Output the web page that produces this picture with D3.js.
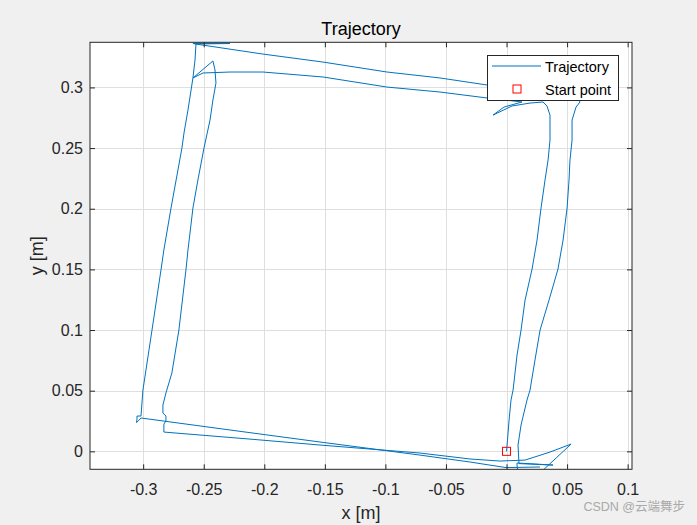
<!DOCTYPE html>
<html>
<head>
<meta charset="utf-8">
<script src="https://cdn.jsdelivr.net/npm/d3@7"></script>
<style>
html,body{margin:0;padding:0;background:#f0f0f0;}
svg{display:block;font-family:"Liberation Sans",Arial,Helvetica,sans-serif;}
</style>
</head>
<body>
<svg id="chart" width="697" height="525"></svg>
<script>
// ---- data (metres) ----
const trajX = [0,0.0008,0.0021,0.0037,0.0054,0.0087,0.0120,0.0153,0.0211,0.0252,0.0285,0.0318,0.0343,0.0359,0.0359,0.0334,0.0301,0.0194,0.0045,-0.0111,-0.0021,0.0128,
  -0.0161,-0.0549,-0.0987,-0.1515,-0.2011,-0.2283,-0.2506,-0.2589,-0.2424,-0.2407,-0.2399,-0.2424,-0.2448,-0.2498,-0.2548,-0.2589,-0.2630,-0.2647,-0.2705,-0.2763,-0.2812,-0.2837,-0.2837,-0.2812,-0.2812,-0.2829,-0.2829,
  -0.2118,-0.1540,-0.0714,-0.0301,-0.0054,0.0153,0.0359,0.0533,0.0285,0.0095,0.0087,0.0087,0.0384,0.0103,
  0.0095,0.0120,0.0169,0.0194,0.0235,0.0277,0.0351,0.0425,0.0467,0.0500,0.0516,0.0524,0.0541,0.0541,0.0574,0.0607,0.0566,0.0111,
  -0.0161,-0.0549,-0.0987,-0.1515,-0.2011,-0.2515,-0.2589,-0.2283,-0.2564,-0.2572,-0.2589,-0.2630,-0.2663,-0.2680,-0.2770,-0.2829,-0.2853,-0.2927,-0.3002,-0.3018,-0.3051,-0.3051,-0.3055,-0.3034,-0.3018,
  -0.2283,-0.1540,-0.0714,-0.0301,-0.0004,0.0277];
const trajY = [0,0.0093,0.0258,0.0423,0.0505,0.0794,0.1000,0.1247,0.1503,0.1742,0.2006,0.2237,0.2402,0.2566,0.2772,0.2847,0.2880,0.2871,0.2847,0.2772,0.2838,0.2880,
  0.2913,0.2962,0.3003,0.3086,0.3127,0.3127,0.3119,0.3078,0.3218,0.3144,0.3036,0.2896,0.2731,0.2500,0.2237,0.2006,0.1660,0.1495,0.1000,0.0646,0.0481,0.0382,0.0316,0.0291,0.0250,0.0225,0.0159,
  0.0101,0.0052,-0.0014,-0.0063,-0.0080,-0.0072,-0.0006,0.0060,-0.0171,-0.0171,-0.0121,-0.0096,-0.0113,-0.0101,
  0.0052,0.0217,0.0423,0.0505,0.0753,0.1000,0.1247,0.1503,0.1742,0.2006,0.2237,0.2402,0.2566,0.2731,0.2838,0.2880,0.2929,0.2979,
  0.3020,0.3078,0.3127,0.3209,0.3275,0.3350,0.3362,0.3362,0.3358,0.3226,0.3078,0.2814,0.2624,0.2500,0.2006,0.1660,0.1495,0.1000,0.0505,0.0291,0.0291,0.0266,0.0237,0.0258,0.0275,
  0.0176,0.0077,-0.0031,-0.0088,-0.0134,-0.0129];
const startPoint = [0, 0];
const xTicks = [-0.3,-0.25,-0.2,-0.15,-0.1,-0.05,0,0.05,0.1];
const xTickLabels = ["-0.3","-0.25","-0.2","-0.15","-0.1","-0.05","0","0.05","0.1"];
const yTicks = [0,0.05,0.1,0.15,0.2,0.25,0.3];
const yTickLabels = ["0","0.05","0.1","0.15","0.2","0.25","0.3"];
const legendLabels = ["Trajectory","Start point"];

// ---- layout ----
const svg = d3.select("#chart");
const L = 90, R = 632, T = 42.3, B = 469.3;
const x = d3.scaleLinear().domain([-0.3439, 0.1036]).range([L, R]);
const y = d3.scaleLinear().domain([-0.0148, 0.3372]).range([B, T]);
const textCol = "#262626";
const blue = "#0072BD";

svg.append("rect").attr("x",0).attr("y",0).attr("width",697).attr("height",525).attr("fill","#f0f0f0");
svg.append("rect").attr("x",L).attr("y",T).attr("width",R-L).attr("height",B-T).attr("fill","#ffffff");

// grid
const grid = svg.append("g").attr("stroke","#dfdfdf").attr("stroke-width",1).attr("shape-rendering","crispEdges");
xTicks.forEach(t=>grid.append("line").attr("x1",Math.round(x(t))+0.5).attr("x2",Math.round(x(t))+0.5).attr("y1",T).attr("y2",B));
yTicks.forEach(t=>grid.append("line").attr("y1",Math.round(y(t))+0.5).attr("y2",Math.round(y(t))+0.5).attr("x1",L).attr("x2",R));

// clip
svg.append("clipPath").attr("id","clip").append("rect").attr("x",L).attr("y",T).attr("width",R-L).attr("height",B-T);

const pts = trajX.map((v,i)=>[v, trajY[i]]);
const line = d3.line().x(d=>x(d[0])).y(d=>y(d[1]));
svg.append("path").attr("clip-path","url(#clip)").attr("d",line(pts))
  .attr("fill","none").attr("stroke",blue).attr("stroke-width",1).attr("stroke-linejoin","round");

// start marker
svg.append("rect").attr("x",x(startPoint[0])-4).attr("y",y(startPoint[1])-4).attr("width",8).attr("height",8)
  .attr("fill","none").attr("stroke","#ff0000").attr("stroke-width",1);

// axes (ticks inside, box on)
const axB = svg.append("g").attr("transform",`translate(0,${B})`).call(d3.axisBottom(x).tickValues(xTicks).tickSizeInner(-5).tickSizeOuter(0).tickPadding(14).tickFormat((d,i)=>xTickLabels[i]));
const axT = svg.append("g").attr("transform",`translate(0,${T})`).call(d3.axisTop(x).tickValues(xTicks).tickSizeInner(-5).tickSizeOuter(0).tickFormat(""));
const axL = svg.append("g").attr("transform",`translate(${L},0)`).call(d3.axisLeft(y).tickValues(yTicks).tickSizeInner(-5).tickSizeOuter(0).tickPadding(7).tickFormat((d,i)=>yTickLabels[i]));
const axR = svg.append("g").attr("transform",`translate(${R},0)`).call(d3.axisRight(y).tickValues(yTicks).tickSizeInner(-5).tickSizeOuter(0).tickFormat(""));
[axB,axT,axL,axR].forEach(g=>{
  g.select(".domain").remove();
  g.selectAll("line").attr("stroke",textCol);
  g.selectAll("text").attr("fill",textCol).attr("font-size",16).attr("font-family","Liberation Sans, Arial, sans-serif");
});
svg.append("rect").attr("x",L).attr("y",T).attr("width",R-L).attr("height",B-T)
  .attr("fill","none").attr("stroke",textCol).attr("stroke-width",1);

// title & labels
svg.append("text").attr("x",(L+R)/2).attr("y",34.5).attr("text-anchor","middle").attr("font-size",18).attr("fill","#000").text("Trajectory");
svg.append("text").attr("x",(L+R)/2).attr("y",518.5).attr("text-anchor","middle").attr("font-size",18).attr("fill",textCol).text("x [m]");
svg.append("text").attr("transform",`translate(43,${(T+B)/2}) rotate(-90)`).attr("text-anchor","middle").attr("font-size",18).attr("fill",textCol).text("y [m]");

// legend
const lg = svg.append("g");
lg.append("rect").attr("x",487.5).attr("y",55.5).attr("width",131).attr("height",45).attr("fill","#fff").attr("stroke",textCol).attr("stroke-width",1);
lg.append("line").attr("x1",492).attr("x2",541).attr("y1",66).attr("y2",66).attr("stroke",blue).attr("stroke-width",1);
lg.append("rect").attr("x",513).attr("y",85).attr("width",8).attr("height",8).attr("fill","none").attr("stroke","#ff0000");
lg.append("text").attr("x",545).attr("y",72).attr("font-size",14.5).attr("fill","#000").text(legendLabels[0]);
lg.append("text").attr("x",545).attr("y",94.5).attr("font-size",14.5).attr("fill","#000").text(legendLabels[1]);

// watermark
svg.append("text").attr("x",685).attr("y",511).attr("text-anchor","end").attr("font-size",12.5)
  .attr("font-family","Liberation Sans, 'Noto Sans CJK SC', sans-serif").attr("fill","#a9a9a9").text("CSDN @云端舞步");
</script>
</body>
</html>
